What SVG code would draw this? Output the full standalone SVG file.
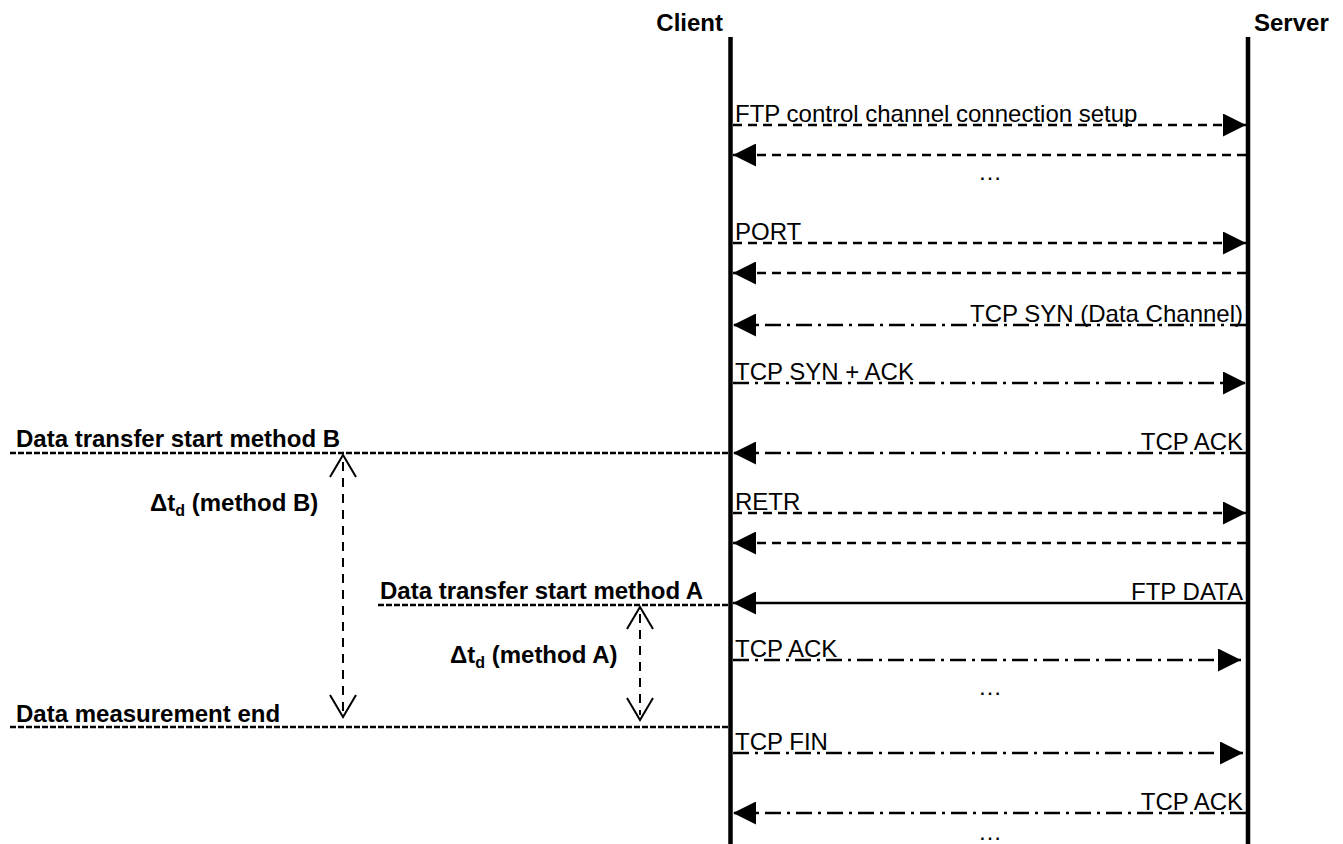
<svg xmlns="http://www.w3.org/2000/svg" width="1343" height="844" viewBox="0 0 1343 844">
<style>
text{font-family:"Liberation Sans",Arial,sans-serif;font-size:24px;fill:#000}
.b{font-weight:bold}
.life{stroke:#000;stroke-width:4.5}
.msg{stroke:#000;stroke-width:2.5;fill:none}
.dash{stroke-dasharray:9 6}
.dd{stroke-dasharray:16 6 3 6}
.ref{stroke:#000;stroke-width:2.5;stroke-dasharray:6 2;fill:none}
.dim{stroke:#000;stroke-width:2;stroke-dasharray:9 7;fill:none}
.vh{stroke:#000;stroke-width:2;fill:none}
</style>
<defs>
<marker id="ah" markerUnits="userSpaceOnUse" viewBox="0 0 24 24" refX="24" refY="12" markerWidth="23" markerHeight="23" orient="auto">
<path d="M0,0 L24,12 L0,24 Z" fill="#000"/>
</marker>
</defs>
<rect width="1343" height="844" fill="#fff"/>
<g id="client">
<text class="b" x="723" y="31" text-anchor="end">Client</text>
<line class="life" x1="730.5" y1="37" x2="730.5" y2="844"/>
</g>
<g id="server">
<text class="b" x="1254" y="31">Server</text>
<line class="life" x1="1248" y1="37" x2="1248" y2="844"/>
</g>
<g id="connectors">
<line class="msg dash" x1="733" y1="125" x2="1246" y2="125" marker-end="url(#ah)"/>
<line class="msg dash" x1="1246" y1="155" x2="733" y2="155" marker-end="url(#ah)"/>
<line class="msg dash" x1="733" y1="243" x2="1246" y2="243" marker-end="url(#ah)"/>
<line class="msg dash" x1="1246" y1="273" x2="733" y2="273" marker-end="url(#ah)"/>
<line class="msg dd" x1="1246" y1="325" x2="733" y2="325" marker-end="url(#ah)"/>
<line class="msg dd" x1="733" y1="383" x2="1246" y2="383" marker-end="url(#ah)"/>
<line class="msg dd" x1="1246" y1="453" x2="733" y2="453" marker-end="url(#ah)"/>
<line class="msg dash" x1="733" y1="513" x2="1246" y2="513" marker-end="url(#ah)"/>
<line class="msg dash" x1="1246" y1="543" x2="733" y2="543" marker-end="url(#ah)"/>
<line class="msg" x1="1246" y1="603" x2="733" y2="603" marker-end="url(#ah)"/>
<line class="msg dd" x1="733" y1="660" x2="1241" y2="660" marker-end="url(#ah)"/>
<line class="msg dd" x1="733" y1="753" x2="1243" y2="753" marker-end="url(#ah)"/>
<line class="msg dd" x1="1246" y1="813" x2="733" y2="813" marker-end="url(#ah)"/>
</g>
<g id="labels">
<text x="735" y="122">FTP control channel connection setup</text>
<text x="990" y="180" text-anchor="middle">…</text>
<text x="735" y="240">PORT</text>
<text x="1243" y="322" text-anchor="end">TCP SYN (Data Channel)</text>
<text x="735" y="380">TCP SYN + ACK</text>
<text x="1243" y="450" text-anchor="end">TCP ACK</text>
<text x="735" y="510">RETR</text>
<text x="1243" y="600" text-anchor="end">FTP DATA</text>
<text x="735" y="657">TCP ACK</text>
<text x="990" y="695" text-anchor="middle">…</text>
<text x="735" y="750">TCP FIN</text>
<text x="1243" y="810" text-anchor="end">TCP ACK</text>
<text x="990" y="840" text-anchor="middle">…</text>
</g>
<g id="marker-B">
<line class="ref" x1="10" y1="453" x2="729" y2="453"/>
<text class="b" x="16" y="447">Data transfer start method B</text>
</g>
<g id="marker-A">
<line class="ref" x1="378" y1="605" x2="729" y2="605"/>
<text class="b" x="380" y="599">Data transfer start method A</text>
</g>
<g id="marker-end">
<line class="ref" x1="10" y1="727" x2="729" y2="727"/>
<text class="b" x="16" y="722">Data measurement end</text>
</g>
<g id="delta-B">
<line class="dim" x1="343" y1="462" x2="343" y2="712"/>
<path class="vh" d="M330,477 L343,455 L356,477 M330,695 L343,717 L356,695"/>
<text class="b" x="150" y="511">Δt<tspan font-size="16" dy="5">d</tspan><tspan dy="-5"> (method B)</tspan></text>
</g>
<g id="delta-A">
<line class="dim" x1="640" y1="614" x2="640" y2="715"/>
<path class="vh" d="M627,629 L640,607 L653,629 M627,698 L640,720 L653,698"/>
<text class="b" x="450" y="663">Δt<tspan font-size="16" dy="5">d</tspan><tspan dy="-5"> (method A)</tspan></text>
</g>
</svg>
